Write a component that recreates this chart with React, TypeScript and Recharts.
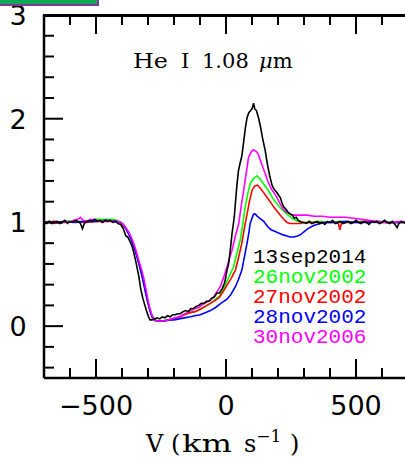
import { LineChart, Line, XAxis, YAxis } from "recharts";

// velocity (km/s), normalised flux
const SEP2014: [number, number][] = [
  [-700, 1.0], [-690, 0.99], [-680, 1.01], [-670, 0.99], [-660, 1.0], [-650, 1.01], [-640, 0.99],
  [-630, 1.0], [-620, 1.02], [-610, 0.99], [-600, 1.01], [-590, 1.0], [-580, 1.02], [-570, 1.01],
  [-560, 0.99], [-552, 0.94], [-545, 0.99], [-535, 1.01], [-525, 1.02], [-515, 1.01], [-505, 1.03],
  [-495, 1.01], [-485, 1.02], [-475, 1.0], [-465, 1.02], [-455, 1.01], [-445, 1.02], [-435, 1.0],
  [-425, 1.01], [-415, 0.99], [-405, 0.98], [-395, 0.94], [-385, 0.87], [-378, 0.86], [-368, 0.81],
  [-360, 0.76], [-352, 0.68], [-345, 0.6], [-336, 0.49], [-328, 0.36], [-320, 0.27], [-312, 0.2],
  [-305, 0.14], [-298, 0.09], [-292, 0.06], [-285, 0.06], [-275, 0.07], [-265, 0.08], [-255, 0.07],
  [-245, 0.09], [-235, 0.08], [-225, 0.1], [-215, 0.09], [-205, 0.11], [-195, 0.11], [-185, 0.12],
  [-176, 0.12], [-165, 0.14], [-155, 0.15], [-145, 0.14], [-135, 0.17], [-125, 0.17], [-115, 0.19],
  [-105, 0.2], [-95, 0.22], [-85, 0.22], [-75, 0.24], [-65, 0.24], [-55, 0.27], [-45, 0.28],
  [-35, 0.32], [-25, 0.32], [-15, 0.36], [-5, 0.42], [4, 0.54], [10, 0.6], [16, 0.72], [23, 0.89],
  [28, 0.98], [32, 1.06], [36, 1.18], [42, 1.36], [48, 1.5], [55, 1.58], [61, 1.64], [68, 1.78],
  [75, 1.92], [81, 2.01], [88, 2.06], [95, 2.08], [101, 2.1], [106, 2.15], [111, 2.09], [117, 2.08],
  [125, 2.01], [132, 1.93], [140, 1.82], [151, 1.69], [160, 1.55], [168, 1.45], [177, 1.36],
  [185, 1.32], [195, 1.29], [203, 1.26], [209, 1.24], [215, 1.19], [222, 1.15], [230, 1.13],
  [238, 1.1], [247, 1.08], [255, 1.07], [263, 1.04], [270, 1.05], [278, 1.02], [286, 1.01],
  [298, 1.0], [310, 0.99], [320, 1.01], [330, 0.99], [340, 1.0], [350, 1.01], [360, 0.99],
  [370, 1.0], [380, 0.98], [390, 1.01], [400, 1.0], [410, 1.02], [420, 0.99], [430, 1.0],
  [440, 1.01], [450, 0.99], [460, 1.0], [470, 1.01], [480, 0.99], [490, 1.0], [500, 1.02],
  [510, 1.0], [520, 0.99], [530, 1.01], [540, 1.0], [550, 0.98], [560, 1.01], [570, 1.0],
  [580, 1.01], [590, 0.99], [600, 1.0], [610, 1.02], [620, 1.0], [630, 0.99], [640, 1.01],
  [650, 0.98], [658, 0.95], [665, 0.99], [675, 1.01], [685, 1.0], [695, 0.99], [700, 1.0],
];

const NOV2002_26: [number, number][] = [
  [-700, 1.0], [-660, 1.0], [-620, 1.01], [-580, 1.01], [-540, 1.01], [-500, 1.03], [-470, 1.03],
  [-440, 1.03], [-420, 1.02], [-405, 1.0], [-395, 0.98], [-385, 0.95], [-375, 0.9], [-365, 0.85],
  [-355, 0.78], [-345, 0.7], [-335, 0.61], [-325, 0.52], [-318, 0.44], [-310, 0.34], [-302, 0.25],
  [-295, 0.18], [-287, 0.12], [-279, 0.08], [-270, 0.06], [-260, 0.05], [-245, 0.05], [-230, 0.06],
  [-215, 0.06], [-200, 0.07], [-185, 0.08], [-170, 0.1], [-155, 0.12], [-137, 0.13], [-120, 0.14],
  [-100, 0.16], [-80, 0.19], [-60, 0.22], [-40, 0.26], [-25, 0.29], [-9, 0.36], [5, 0.44], [18, 0.51],
  [29, 0.57], [42, 0.7], [55, 0.83], [65, 0.99], [74, 1.15], [84, 1.28], [93, 1.37], [105, 1.42],
  [119, 1.45], [130, 1.42], [142, 1.38], [160, 1.32], [183, 1.22], [209, 1.14], [234, 1.08],
  [260, 1.03], [286, 1.0], [320, 1.0], [360, 1.01], [400, 1.0], [440, 1.01], [480, 1.0],
  [520, 1.01], [560, 1.0], [600, 1.01], [640, 1.0], [680, 1.0], [700, 1.0],
];

const NOV2002_27: [number, number][] = [
  [-700, 1.0], [-660, 1.01], [-620, 1.0], [-580, 1.01], [-540, 1.0], [-500, 1.01], [-460, 1.01],
  [-420, 1.01], [-405, 1.0], [-395, 0.97], [-385, 0.94], [-375, 0.9], [-365, 0.85], [-355, 0.78],
  [-345, 0.7], [-335, 0.61], [-325, 0.52], [-317, 0.43], [-309, 0.33], [-301, 0.24], [-293, 0.16],
  [-285, 0.1], [-277, 0.07], [-268, 0.05], [-250, 0.05], [-235, 0.05], [-220, 0.06], [-205, 0.07],
  [-190, 0.08], [-175, 0.09], [-160, 0.11], [-140, 0.13], [-120, 0.14], [-100, 0.16], [-80, 0.19],
  [-60, 0.22], [-40, 0.25], [-25, 0.28], [-9, 0.34], [5, 0.4], [20, 0.46], [36, 0.54], [48, 0.66],
  [61, 0.8], [71, 0.95], [81, 1.08], [90, 1.2], [100, 1.31], [110, 1.35], [122, 1.36], [135, 1.32],
  [147, 1.28], [158, 1.24], [170, 1.2], [183, 1.15], [196, 1.11], [209, 1.07], [222, 1.03],
  [235, 1.0], [247, 0.99], [270, 0.99], [286, 0.99], [300, 1.0], [340, 1.0], [380, 1.0],
  [420, 1.0], [432, 0.99], [438, 0.93], [444, 0.99], [460, 1.0], [500, 1.0], [540, 1.01],
  [580, 1.0], [620, 1.0], [660, 1.0], [700, 1.0],
];

const NOV2002_28: [number, number][] = [
  [-700, 1.0], [-660, 1.0], [-620, 1.01], [-580, 1.0], [-540, 1.01], [-500, 1.01], [-460, 1.02],
  [-420, 1.01], [-405, 1.0], [-395, 0.98], [-385, 0.94], [-375, 0.89], [-365, 0.84], [-355, 0.77],
  [-345, 0.69], [-335, 0.6], [-325, 0.5], [-317, 0.41], [-309, 0.32], [-301, 0.23], [-293, 0.15],
  [-285, 0.09], [-277, 0.06], [-268, 0.05], [-250, 0.05], [-235, 0.05], [-220, 0.06], [-200, 0.06],
  [-180, 0.07], [-160, 0.08], [-137, 0.09], [-120, 0.1], [-99, 0.11], [-80, 0.13], [-60, 0.15],
  [-40, 0.18], [-20, 0.22], [4, 0.26], [20, 0.31], [36, 0.38], [48, 0.45], [61, 0.54], [71, 0.67],
  [81, 0.8], [88, 0.9], [93, 0.99], [100, 1.04], [106, 1.08], [113, 1.08], [120, 1.06], [130, 1.04],
  [145, 1.01], [160, 0.96], [173, 0.93], [183, 0.92], [200, 0.9], [220, 0.88], [235, 0.87],
  [247, 0.86], [260, 0.86], [275, 0.87], [286, 0.88], [300, 0.91], [315, 0.94], [337, 0.97],
  [363, 0.99], [380, 1.0], [420, 1.0], [460, 1.01], [500, 1.0], [540, 1.0], [580, 1.01],
  [620, 1.0], [660, 1.0], [700, 1.0],
];

const NOV2006_30: [number, number][] = [
  [-700, 1.0], [-680, 1.01], [-660, 0.99], [-640, 1.0], [-620, 1.01], [-600, 1.0], [-585, 1.02],
  [-570, 1.03], [-560, 1.05], [-550, 1.02], [-535, 1.01], [-520, 1.03], [-500, 1.02], [-480, 1.01],
  [-460, 1.02], [-440, 1.01], [-420, 1.01], [-405, 1.0], [-395, 0.98], [-385, 0.95], [-375, 0.91],
  [-365, 0.86], [-355, 0.8], [-345, 0.72], [-335, 0.63], [-325, 0.55], [-317, 0.47], [-308, 0.36],
  [-300, 0.25], [-292, 0.16], [-284, 0.1], [-276, 0.07], [-268, 0.05], [-255, 0.05], [-240, 0.05],
  [-225, 0.06], [-210, 0.07], [-195, 0.08], [-180, 0.09], [-165, 0.11], [-150, 0.13], [-135, 0.15],
  [-120, 0.17], [-105, 0.18], [-90, 0.21], [-75, 0.23], [-60, 0.25], [-48, 0.28], [-35, 0.33],
  [-22, 0.38], [-9, 0.47], [5, 0.58], [15, 0.67], [23, 0.73], [35, 0.86], [49, 0.99], [58, 1.15],
  [68, 1.31], [78, 1.48], [87, 1.63], [97, 1.68], [105, 1.7], [113, 1.69], [122, 1.67], [132, 1.6],
  [142, 1.53], [151, 1.47], [162, 1.39], [175, 1.32], [186, 1.28], [196, 1.24], [208, 1.18],
  [220, 1.13], [232, 1.1], [247, 1.08], [260, 1.07], [280, 1.07], [311, 1.07], [340, 1.06],
  [370, 1.06], [400, 1.05], [430, 1.05], [460, 1.05], [490, 1.04], [520, 1.03], [550, 1.02],
  [580, 1.01], [610, 1.0], [640, 1.0], [670, 1.01], [700, 1.0],
];

const SERIES_NAMES = ["13sep2014", "26nov2002", "27nov2002", "28nov2002", "30nov2006"];
const SERIES_COLORS = ["#000000", "#00ff00", "#ff0000", "#0000ff", "#ff00ff"];
const SERIES_DATA = [SEP2014, NOV2002_26, NOV2002_27, NOV2002_28, NOV2006_30];
// draw order: black last so it sits on top
const DRAW_ORDER = [1, 2, 3, 4, 0];

const X_TICKS = [-600, -500, -400, -300, -200, -100, 0, 100, 200, 300, 400, 500, 600];
const Y_TICKS = [-0.4, -0.2, 0, 0.2, 0.4, 0.6, 0.8, 1, 1.2, 1.4, 1.6, 1.8, 2, 2.2, 2.4, 2.6, 2.8, 3];

const W = 410;
const H = 461;
// axes are 1px thick boxes (recharts skips zero-size axes), so margins are 1px short
const M = { top: 15, right: 1, bottom: 82, left: 43 };
const PLOT_TOP = M.top;
const PLOT_BOTTOM = H - M.bottom - 1;
const PLOT_LEFT = M.left + 1;
const PLOT_RIGHT = W - M.right - 1;
const MAJOR = 19;
const MINOR = 10;

const isInt = (v: number) => Math.abs(v - Math.round(v)) < 1e-6;
const fmt = (v: number) => (v < 0 ? `\u2212${-v}` : `${v}`);

function BottomTick(props: any) {
  const { x, payload } = props;
  const v = payload.value;
  const len = v % 500 === 0 ? MAJOR : MINOR;
  return (
    <g>
      <line x1={x} x2={x} y1={PLOT_BOTTOM} y2={PLOT_BOTTOM - len} stroke="#000" strokeWidth={2} />
      {len === MAJOR && (
        <text x={x} y={415} textAnchor="middle" fontFamily="DejaVu Sans" fontSize={27} fill="#000">
          {fmt(v)}
        </text>
      )}
    </g>
  );
}

function LeftTick(props: any) {
  const { y, payload } = props;
  const v = payload.value;
  const major = isInt(v);
  return (
    <g>
      <line x1={PLOT_LEFT} x2={PLOT_LEFT + (major ? MAJOR : MINOR)} y1={y} y2={y} stroke="#000" strokeWidth={2} />
      {major && (
        <text x={18} y={y + 10} textAnchor="middle" fontFamily="DejaVu Sans" fontSize={27} fill="#000">
          {Math.round(v)}
        </text>
      )}
    </g>
  );
}

function RightTick(props: any) {
  const { y, payload } = props;
  const major = isInt(payload.value);
  return <line x1={PLOT_RIGHT} x2={PLOT_RIGHT - (major ? MAJOR : MINOR)} y1={y} y2={y} stroke="#000" strokeWidth={2} />;
}

const frame = { stroke: "#000", strokeWidth: 2.5 };
// top frame drawn by hand, same linear mapping as the bottom axis
const topX = (v: number) => PLOT_LEFT + ((v + 700) / 1400) * (PLOT_RIGHT - PLOT_LEFT);

export default function App() {
  return (
    <div style={{ position: "fixed", left: 0, top: 0, width: 405, height: 461, overflow: "hidden", background: "#fff" }}>
      <LineChart width={W} height={H} margin={M}>
        <XAxis xAxisId="b" type="number" dataKey="v" domain={[-700, 700]} ticks={X_TICKS} interval={0}
          height={1} axisLine={frame} tickLine={false} tick={(p: any) => <BottomTick {...p} />} />
        <YAxis yAxisId="l" type="number" domain={[-0.5, 3]} ticks={Y_TICKS} interval={0}
          width={1} axisLine={frame} tickLine={false} tick={(p: any) => <LeftTick {...p} />} />
        <YAxis yAxisId="r" type="number" orientation="right" domain={[-0.5, 3]} ticks={Y_TICKS} interval={0}
          width={1} axisLine={frame} tickLine={false} tick={(p: any) => <RightTick {...p} />} />
        {DRAW_ORDER.map((i) => (
          <Line
            key={SERIES_NAMES[i]}
            xAxisId="b"
            yAxisId="l"
            data={SERIES_DATA[i].map(([v, f]) => ({ v, f }))}
            dataKey="f"
            stroke={SERIES_COLORS[i]}
            strokeWidth={1.6}
            dot={false}
            isAnimationActive={false}
          />
        ))}
      </LineChart>

      {/* top frame with inward ticks */}
      <div style={{ position: "absolute", left: PLOT_LEFT - 1, top: PLOT_TOP - 1, width: W - PLOT_LEFT, height: 0,
        borderTop: "3px solid #000", zIndex: 5 }} />
      {X_TICKS.map((v) => (
        <div key={v} style={{ position: "absolute", left: topX(v) - 1, top: PLOT_TOP, width: 2,
          height: v % 500 === 0 ? MAJOR : MINOR, background: "#000", zIndex: 5 }} />
      ))}

      <svg width={405} height={461} style={{ position: "absolute", left: 0, top: 0, pointerEvents: "none" }}>
        <text y={68} fontFamily="DejaVu Serif" fontSize={21} fill="#000">
          <tspan x={133} textLength={35} lengthAdjust="spacingAndGlyphs">He</tspan>
          <tspan x={181}>I</tspan>
          <tspan x={202}>1.08</tspan>
          <tspan x={259} fontStyle="italic">μ</tspan>
          <tspan>m</tspan>
        </text>
        {SERIES_NAMES.map((name, i) => (
          <text key={name} x={253} y={263 + i * 20} fontFamily="Liberation Mono" fontSize={21} fill={SERIES_COLORS[i]}>
            {name}
          </text>
        ))}
        <text y={452} fontFamily="DejaVu Serif" fontSize={24} fill="#000">
          <tspan x={146}>V</tspan>
          <tspan x={171}>(</tspan>
          <tspan x={182} textLength={50} lengthAdjust="spacingAndGlyphs">km</tspan>
          <tspan x={244}>s</tspan>
          <tspan fontSize={17} dy={-10}>{"\u22121"}</tspan>
          <tspan x={290} dy={10}>)</tspan>
        </text>
      </svg>

      <div style={{ position: "absolute", left: 0, top: 0, width: 97, height: 4, background: "#0fa654",
        borderRight: "2px solid #7b3a9c", borderBottom: "2px solid #7b3a9c", zIndex: 6 }} />
    </div>
  );
}
